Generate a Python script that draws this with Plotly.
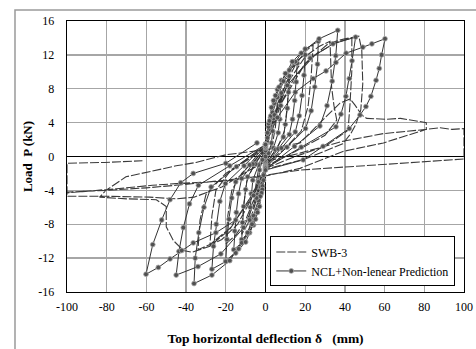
import plotly.graph_objects as go

# ---- Tick labels ----
x_ticks = [-100, -80, -60, -40, -20, 0, 20, 40, 60, 80, 100]
x_tick_text = ["-100", "-80", "-60", "-40", "-20", "0", "20", "40", "60", "80", "100"]
y_ticks = [-16, -12, -8, -4, 0, 4, 8, 12, 16]
y_tick_text = ["-16", "-12", "-8", "-4", "0", "4", "8", "12", "16"]

# ---- Prediction (NCL + Non-linear), one list of (deflection mm, load kN) per cycle ----
pred_c1 = [(0, 0), (1, 2.2), (2.5, 3.6), (4, 4.5), (3.6, 3.0), (3, 1.6), (1.5, 0.4), (0, -0.6),
           (-1, -2.2), (-2.5, -3.6), (-4, -4.5), (-3.6, -3.0), (-3, -1.6), (-1.5, -0.4)]
pred_c2 = [(0, 0.7), (1, 2.8), (2.5, 4.6), (4.5, 6.3), (6, 7.0), (8, 7.5), (7.7, 6.0), (7.2, 4.4),
           (6.4, 2.8), (4, 1.0), (0, -0.8), (-1, -2.8), (-2.5, -4.6), (-4.5, -6.3), (-6, -7.0),
           (-8, -7.5), (-7.7, -6.0), (-7.2, -4.4), (-6.4, -2.8), (-3.5, -1.0)]
pred_c3 = [(0, 1.0), (1.5, 3.5), (3, 5.8), (6, 7.9), (9, 8.9), (12, 9.5), (11.6, 7.6), (11, 5.7),
           (10, 3.8), (9, 2.3), (5, 0.8), (0, -1.0), (-1.5, -3.5), (-3, -5.9), (-6, -8.1),
           (-9, -9.1), (-12, -9.8), (-11.6, -7.8), (-11, -5.9), (-10, -3.9), (-9, -2.4), (-5, -0.9)]
pred_c4 = [(0, 1.1), (1.6, 3.9), (4, 6.6), (8, 9.0), (12, 10.2), (16, 11.0), (15.5, 8.8), (14.7, 6.6),
           (13.6, 4.4), (12, 2.6), (6.4, 0.9), (0, -1.1), (-1.6, -3.9), (-4, -6.6), (-8, -9.0),
           (-12, -10.2), (-16, -11.0), (-15.5, -8.8), (-14.7, -6.6), (-13.6, -4.4), (-12, -2.6), (-6.4, -0.9)]
pred_c5 = [(0, 1.2), (2, 4.2), (5, 7.2), (10, 9.8), (15, 11.2), (20, 12.0), (19.4, 9.6), (18.4, 7.2),
           (17, 4.8), (15, 2.9), (8, 1.0), (0, -1.2), (-2, -4.3), (-5, -7.4), (-10, -10.1),
           (-15, -11.4), (-20, -12.3), (-19.4, -9.8), (-18.4, -7.4), (-17, -4.9), (-15, -3.0), (-8, -1.0)]
pred_c6 = [(0, 1.4), (2.7, 4.8), (6.8, 8.2), (13.5, 11.2), (20, 12.7), (26.6, 13.6), (26.2, 10.9),
           (24.8, 8.2), (23, 5.4), (20.2, 3.3), (10.8, 1.1), (0, -1.3), (-2.7, -4.7), (-6.8, -8.0),
           (-13.5, -10.9), (-20, -12.4), (-27, -13.3), (-26.2, -10.6), (-24.8, -8.0), (-23, -5.3),
           (-20.2, -3.2), (-10.8, -1.1)]
pred_c7 = [(0, 1.5), (3.6, 5.2), (9, 8.9), (18, 12.2), (27, 13.9), (36.4, 14.9), (35.4, 11.9),
           (33.6, 8.9), (31, 6.0), (27.4, 3.6), (14.6, 1.2), (0, -1.5), (-3.6, -5.2), (-9, -9.0),
           (-18, -12.3), (-27, -14.0), (-36, -15.0), (-35.4, -12.0), (-33.6, -9.0), (-31, -6.0),
           (-27.4, -3.6), (-14.6, -1.2)]
pred_c8 = [(0, 1.4), (4.5, 4.9), (11, 8.4), (22.5, 11.6), (34, 13.3), (45.4, 14.1), (43.6, 11.3),
           (42.2, 9.2), (40.5, 7.1), (38, 5.0), (35.5, 3.5), (18, 1.1), (0, -1.4), (-4.5, -4.9),
           (-11, -8.4), (-22.5, -11.5), (-34, -13.0), (-45, -14.0), (-43.6, -11.2), (-41.4, -8.4),
           (-38.3, -5.6), (-33.8, -3.4), (-18, -1.1)]
pred_c9 = [(0, 1.4), (6, 4.6), (15, 7.6), (24, 9.2), (30.5, 10.1), (35.5, 11.1), (40.6, 12.2),
           (49, 12.9), (53.6, 13.3), (60.2, 13.9), (58.5, 12.0), (57.3, 10.4), (55.7, 9.0), (53.1, 7.1),
           (50.6, 5.9), (47.6, 4.9), (42.2, 3.3), (29, 1.2), (19, -0.4), (0, -1.6), (-6, -4.6),
           (-15, -7.5), (-25, -9.0), (-36.4, -10.2), (-42.2, -11.1), (-48.1, -12.1), (-54, -13.1),
           (-60.2, -13.9), (-56.8, -10.4), (-52.3, -7.5), (-48.1, -5.1), (-42.7, -3.1), (-36.4, -2.0),
           (-20, -0.8), (-4.3, 1.6)]

# ---- Experiment SWB-3, (deflection mm, load kN) in loading order ----
exp_small = [(0, 0), (2, 2.5), (4, 4.5), (6, 6), (5, 3.5), (3.5, 1.5), (0, -0.5), (-2, -2.8), (-4, -4.8),
             (-6, -6.2), (-5, -3.6), (-3.5, -1.5), (0, 0.6), (3, 3.5), (6, 6.2), (9, 8), (12, 9.5),
             (11, 6), (9.5, 3), (6, 1), (0, -0.8), (-3, -3.6), (-6, -6.3), (-9, -8), (-12, -9.2),
             (-11, -5.8), (-9.5, -3), (-6, -1), (0, 0.8)]
exp_mid = [(4, 4.5), (10, 8.4), (15, 10.8), (20, 12.4), (24, 13.2), (23, 9.5), (21.5, 6), (18, 3), (10, 1),
           (0, -1), (-4, -4), (-10, -7.5), (-15, -9.3), (-20, -10.3), (-19, -7), (-17, -4), (-12, -2),
           (0, 0.9), (5, 5), (12, 9), (20, 11.8), (27, 13), (32.5, 13.6), (33, 11), (33.3, 8.2),
           (34.5, 6), (35.9, 4.3), (30, 2.5), (15, 0.6), (0, -1.2), (-6, -4.5), (-14, -8), (-22, -9.8),
           (-28, -10.5), (-27, -7), (-25, -4), (-18, -1.8), (0, 1)]
exp_peak = [(6, 5.5), (15, 9.5), (25, 12), (35, 13.4), (43.5, 14), (43.5, 12.2), (43.5, 10.2),
            (42.6, 6.3), (41.6, 3.1), (30, 1.2), (15, 0), (0, -1.4), (-8, -5), (-18, -8.5),
            (-28, -10.4), (-34, -11), (-33, -7.5), (-30, -4.5), (-20, -2), (0, 1.2), (8, 6.3),
            (20, 11), (32, 13.4), (40, 13.9), (47, 14.2), (48.5, 12.6), (49, 8.6), (48, 5.5),
            (45.5, 3.8), (43, 2.7), (38.9, 1.5), (20, -0.3), (0, -1.5), (-8, -5), (-18, -8.6),
            (-28, -10.6), (-37, -11.3), (-41.4, -11.1), (-46.5, -9.9), (-50, -8.3), (-50, -5.9),
            (-55, -5.1), (-70, -5), (-83.6, -4.8)]
exp_large = [(-80.4, -4), (-70.3, -2.4), (-58.5, -1.8), (-45, -1.1), (-35, -0.7), (-20, 0.2), (0, 0.8),
             (17.4, 1.6), (27.5, 4), (37.5, 6.3), (42.6, 6.8), (45, 6.1), (48.5, 4.9), (51, 4.5),
             (61, 4.4), (68, 4.5), (76, 4.2), (81, 4.0), (81, 3.2), (59.4, 1.6), (39, 0.6),
             (17.4, -1.4), (0, -2.3), (-28, -3.0), (-45, -3.4), (-60, -3.7), (-80, -4.0), (-100, -4.2),
             (-100, -4.7), (-80, -4.7), (-58.5, -4.8), (-45, -5.0), (-36, -4.8), (-22, -3.6),
             (-8, -1.6), (0, -0.6), (17.4, 0.4), (39, 1.8), (59.4, 2.7), (81, 3.2), (88, 3.4),
             (94, 3.2), (100, 3.3), (100, -0.3), (60, -0.9), (17.4, -1.6), (0, -2.2), (-20, -2.9),
             (-45, -3.2), (-57, -3.4), (-75, -3.8), (-100, -4.3), (-100, -0.8), (-81, -0.7), (-62, -0.5)]

pred_pts = pred_c1 + pred_c2 + pred_c3 + pred_c4 + pred_c5 + pred_c6 + pred_c7 + pred_c8 + pred_c9
exp_pts = exp_small + exp_mid + exp_peak + exp_large

SERIF = "Liberation Serif"

fig = go.Figure()
fig.add_trace(go.Scatter(
    x=[p[0] for p in exp_pts], y=[p[1] for p in exp_pts],
    mode="lines", name="SWB-3",
    line=dict(color="#3a3a3a", width=1.1, dash="9px,2px"),
))
fig.add_trace(go.Scatter(
    x=[p[0] for p in pred_pts], y=[p[1] for p in pred_pts],
    mode="lines+markers", name="NCL+Non-lenear Prediction",
    line=dict(color="#333333", width=1),
    marker=dict(symbol="circle", size=4.8, color="#505050", line=dict(color="#a8a8a8", width=0.8)),
))

axis_common = dict(
    showgrid=True, gridcolor="#a6a6a6", gridwidth=1.3,
    zeroline=True, zerolinecolor="#000000", zerolinewidth=1.3,
    showline=True, linecolor="#000000", linewidth=1.3, mirror=True,
    ticks="", automargin=False,
    tickfont=dict(family=SERIF, size=12, color="#000"),
)

fig.update_layout(
    width=476, height=349,
    margin=dict(l=67, r=12, t=21, b=57),
    paper_bgcolor="white", plot_bgcolor="white",
    font=dict(family=SERIF, color="#000"),
    showlegend=True,
    legend=dict(
        x=0.512, y=0.205, xanchor="left", yanchor="top",
        bgcolor="white", bordercolor="#000", borderwidth=1,
        font=dict(family=SERIF, size=12, color="#000"),
        tracegroupgap=0, itemwidth=30,
    ),
    xaxis=dict(range=[-100, 100], tickvals=x_ticks, ticktext=x_tick_text, ticklabelstandoff=3,
               title=dict(text="<b>Top horizontal deflection δ   (mm)</b>",
                          font=dict(family=SERIF, size=13.5), standoff=20),
               **axis_common),
    yaxis=dict(range=[-16, 16], tickvals=y_ticks, ticktext=y_tick_text, ticklabelstandoff=9,
               title=dict(text="<b>Load  P (kN)</b>", font=dict(family=SERIF, size=13), standoff=2),
               **axis_common),
    shapes=[dict(type="rect", xref="paper", yref="paper",
                 x0=-0.131, x1=1.06, y0=-0.3, y1=1.0406,
                 line=dict(color="#9a9a9a", width=1.5), fillcolor="rgba(0,0,0,0)", layer="above")],
)

fig.write_html(
    "out.html",
    config={"displayModeBar": False, "staticPlot": True},
    post_script="document.body.style.margin='0';document.body.style.overflow='hidden';",
)
